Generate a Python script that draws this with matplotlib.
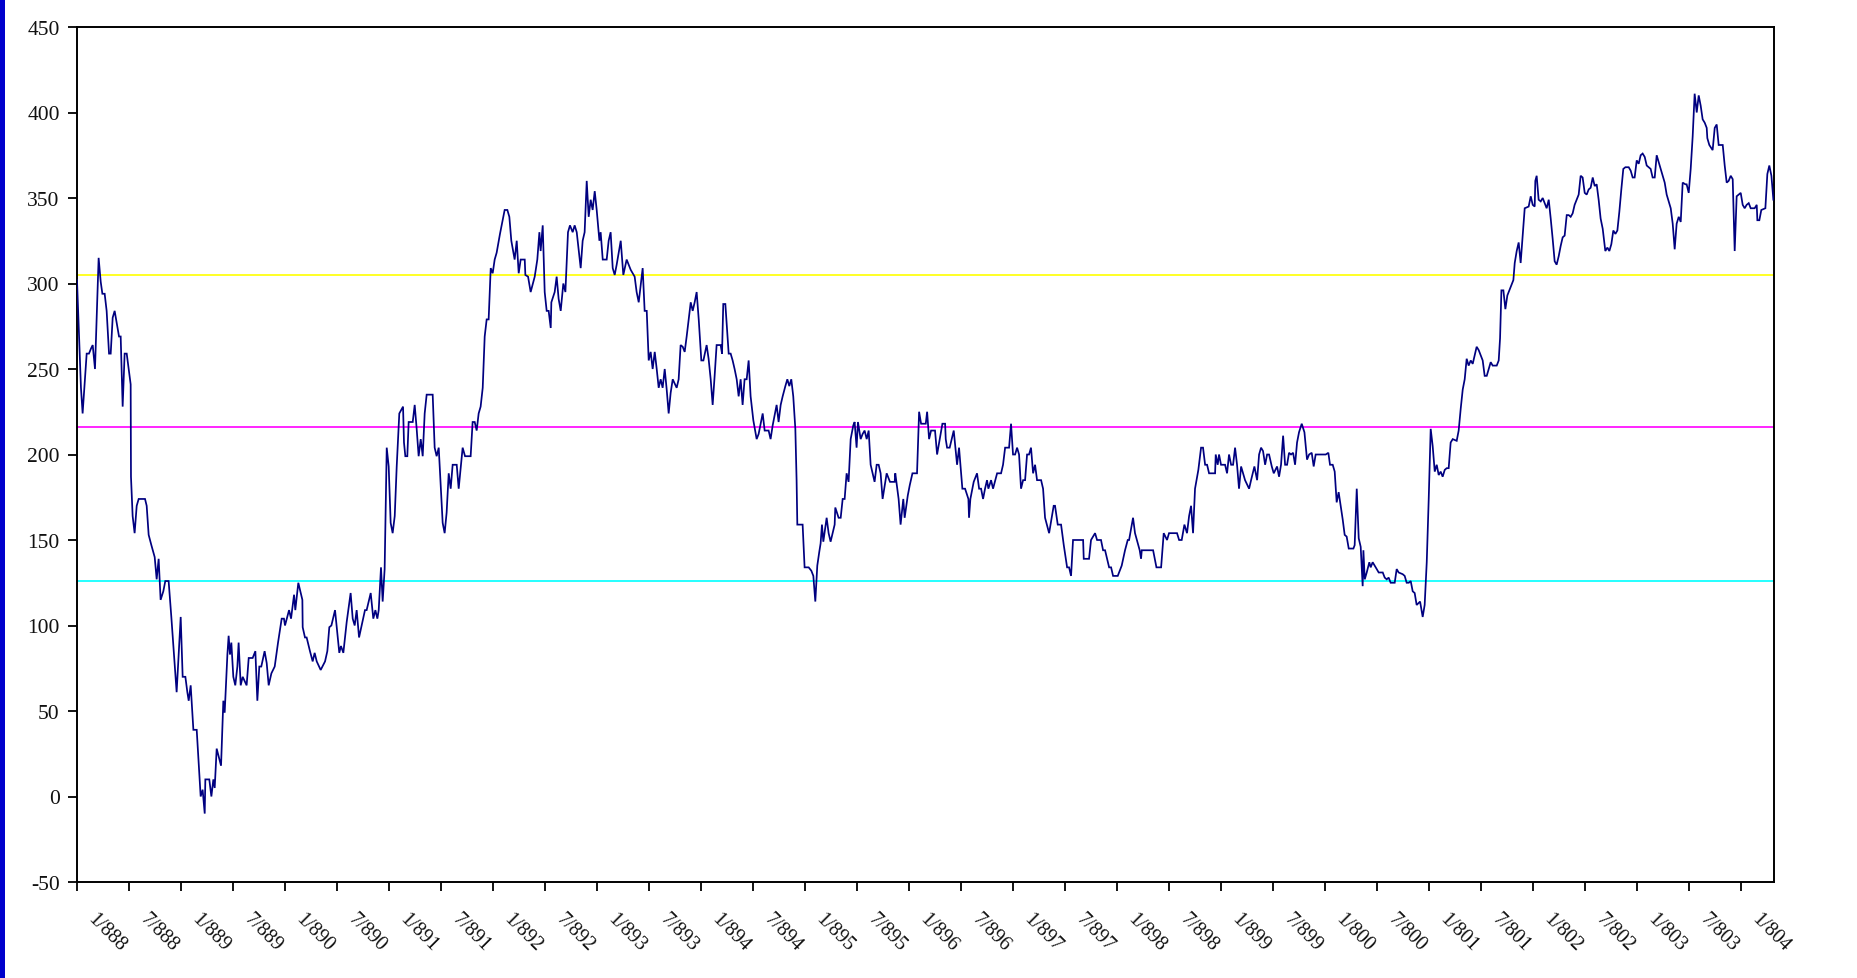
import matplotlib
matplotlib.use("Agg")
import matplotlib.pyplot as plt
import matplotlib.transforms as mtransforms
from matplotlib.patches import Rectangle

BASE_YEAR = 1888

# (years since Jan 1888, value)
period_1888_1889 = [(0.000, 302), (0.038, 239), (0.054, 224), (0.093, 259), (0.115, 259), (0.135, 262),
    (0.151, 264), (0.173, 250), (0.208, 315), (0.228, 301), (0.244, 294), (0.266, 294), (0.285, 284),
    (0.308, 259), (0.324, 259), (0.343, 280), (0.362, 284), (0.404, 269), (0.420, 269), (0.439, 228),
    (0.458, 259), (0.478, 259), (0.516, 241), (0.519, 187), (0.535, 164), (0.554, 154), (0.574, 170),
    (0.593, 174), (0.654, 174), (0.670, 170), (0.689, 153), (0.715, 147), (0.747, 140), (0.766, 127),
    (0.785, 139), (0.804, 115), (0.830, 120), (0.849, 126), (0.881, 126), (0.907, 105), (0.933, 83),
    (0.958, 61), (0.978, 83), (0.997, 105), (1.016, 70), (1.042, 70), (1.061, 61), (1.074, 56),
    (1.093, 65), (1.119, 39), (1.151, 39), (1.173, 16), (1.189, 0), (1.208, 4), (1.228, -10),
    (1.234, 10), (1.272, 10), (1.292, 0), (1.311, 10), (1.324, 5), (1.343, 28), (1.385, 18),
    (1.407, 56), (1.420, 49), (1.446, 83), (1.458, 94), (1.471, 83), (1.484, 90), (1.503, 70),
    (1.522, 65), (1.542, 76), (1.554, 90), (1.574, 65), (1.593, 70), (1.631, 65), (1.651, 81),
    (1.689, 81), (1.715, 85), (1.734, 56), (1.753, 76), (1.772, 76), (1.804, 85), (1.824, 78),
    (1.843, 65), (1.869, 72), (1.901, 76), (1.933, 90)]

period_1890_1891 = [(1.968, 104), (1.990, 104), (2.000, 100), (2.039, 109), (2.058, 104), (2.087, 118),
    (2.099, 109), (2.128, 125), (2.167, 115), (2.170, 99), (2.192, 93), (2.208, 93), (2.240, 85),
    (2.266, 79), (2.285, 84), (2.305, 79), (2.343, 74), (2.385, 79), (2.407, 85), (2.426, 99),
    (2.446, 100), (2.481, 109), (2.522, 84), (2.538, 88), (2.561, 84), (2.593, 102), (2.631, 119),
    (2.651, 104), (2.670, 100), (2.689, 109), (2.712, 93), (2.769, 109), (2.785, 109), (2.824, 119),
    (2.849, 104), (2.869, 109), (2.888, 104), (2.901, 109), (2.923, 134), (2.939, 114), (2.958, 133),
    (2.978, 204), (2.997, 193), (3.016, 160), (3.035, 154), (3.055, 164), (3.074, 193), (3.099, 224),
    (3.135, 228), (3.144, 207), (3.157, 199), (3.176, 199), (3.189, 219), (3.228, 219), (3.247, 229),
    (3.266, 215), (3.285, 199), (3.305, 209), (3.324, 199), (3.343, 224), (3.362, 235), (3.420, 235),
    (3.439, 204), (3.458, 199), (3.478, 204), (3.497, 182), (3.516, 160), (3.535, 154), (3.554, 166),
    (3.574, 189), (3.593, 180), (3.612, 194), (3.651, 194), (3.670, 180), (3.708, 204), (3.731, 199),
    (3.785, 199), (3.804, 219), (3.824, 219), (3.843, 214), (3.862, 224), (3.881, 228), (3.901, 239),
    (3.920, 269), (3.939, 279), (3.958, 279), (3.978, 309), (3.997, 306), (4.016, 314), (4.035, 318),
    (4.067, 329), (4.093, 337)]

period_1892_1893 = [(4.112, 343), (4.138, 343), (4.157, 339), (4.176, 325), (4.208, 314), (4.228, 325),
    (4.247, 306), (4.266, 314), (4.305, 314), (4.311, 305), (4.337, 304), (4.362, 295), (4.401, 304),
    (4.426, 314), (4.446, 330), (4.458, 319), (4.478, 334), (4.497, 295), (4.516, 284), (4.535, 284),
    (4.555, 274), (4.561, 289), (4.593, 295), (4.612, 304), (4.631, 291), (4.651, 284), (4.676, 300),
    (4.696, 295), (4.721, 330), (4.740, 334), (4.766, 330), (4.785, 334), (4.805, 330), (4.843, 309),
    (4.862, 325), (4.881, 330), (4.901, 360), (4.920, 339), (4.939, 349), (4.958, 343), (4.978, 354),
    (4.997, 343), (5.023, 325), (5.035, 330), (5.055, 314), (5.093, 314), (5.112, 325), (5.131, 330),
    (5.151, 309), (5.170, 305), (5.189, 311), (5.208, 318), (5.228, 325), (5.253, 305), (5.285, 314),
    (5.305, 311), (5.324, 308), (5.362, 304), (5.381, 295), (5.401, 289), (5.420, 299), (5.439, 309),
    (5.458, 284), (5.478, 284), (5.497, 255), (5.516, 260), (5.535, 250), (5.555, 260), (5.574, 250),
    (5.593, 239), (5.612, 244), (5.631, 239), (5.651, 250), (5.670, 238), (5.689, 224), (5.708, 236),
    (5.728, 244), (5.766, 239), (5.785, 244), (5.804, 264), (5.824, 263), (5.843, 260), (5.862, 269),
    (5.881, 279), (5.901, 289), (5.920, 284), (5.939, 289), (5.958, 295), (5.978, 279), (6.003, 255),
    (6.023, 255)]

period_1894_1895 = [(6.054, 264), (6.073, 256), (6.093, 244), (6.112, 229), (6.131, 246), (6.150, 264),
    (6.189, 264), (6.202, 259), (6.214, 288), (6.234, 288), (6.253, 271), (6.266, 259), (6.285, 259),
    (6.304, 255), (6.323, 250), (6.343, 244), (6.362, 234), (6.381, 244), (6.400, 229), (6.419, 244),
    (6.439, 244), (6.458, 255), (6.477, 234), (6.503, 220), (6.535, 209), (6.554, 212), (6.593, 224),
    (6.612, 214), (6.650, 214), (6.669, 209), (6.689, 217), (6.727, 229), (6.746, 219), (6.766, 229),
    (6.785, 234), (6.811, 240), (6.830, 244), (6.849, 240), (6.868, 244), (6.887, 234), (6.907, 215),
    (6.919, 185), (6.926, 159), (6.977, 159), (6.996, 134), (7.035, 134), (7.061, 132), (7.080, 129),
    (7.099, 114), (7.118, 135), (7.137, 143), (7.150, 148), (7.163, 159), (7.176, 149), (7.208, 163),
    (7.227, 154), (7.246, 149), (7.285, 159), (7.291, 169), (7.323, 163), (7.343, 163), (7.362, 174),
    (7.381, 174), (7.400, 189), (7.419, 184), (7.439, 209), (7.464, 217), (7.477, 219), (7.496, 204),
    (7.509, 219), (7.535, 209), (7.554, 212), (7.573, 214), (7.593, 209), (7.612, 214), (7.631, 194),
    (7.650, 189), (7.669, 184), (7.689, 194), (7.708, 194), (7.727, 189), (7.746, 174), (7.785, 189),
    (7.817, 184), (7.862, 184), (7.868, 189), (7.900, 174), (7.919, 159), (7.945, 174), (7.958, 163)]

period_1896_1899 = [(7.988, 176), (8.007, 182), (8.033, 189), (8.077, 189), (8.097, 225), (8.116, 218),
    (8.161, 218), (8.174, 225), (8.193, 209), (8.212, 214), (8.250, 214), (8.270, 200), (8.295, 209),
    (8.321, 218), (8.347, 218), (8.353, 209), (8.366, 204), (8.391, 204), (8.430, 214), (8.462, 194),
    (8.481, 204), (8.513, 180), (8.539, 180), (8.571, 174), (8.577, 163), (8.590, 174), (8.622, 184),
    (8.654, 189), (8.674, 180), (8.693, 180), (8.712, 174), (8.731, 180), (8.750, 185), (8.763, 180),
    (8.789, 185), (8.808, 180), (8.847, 189), (8.885, 189), (8.904, 194), (8.924, 204), (8.962, 204),
    (8.981, 218), (9.000, 200), (9.020, 200), (9.039, 204), (9.058, 200), (9.077, 180), (9.097, 185),
    (9.116, 185), (9.135, 200), (9.154, 200), (9.173, 204), (9.193, 189), (9.212, 194), (9.231, 185),
    (9.270, 185), (9.289, 180), (9.308, 163), (9.347, 154), (9.391, 170), (9.404, 170), (9.430, 159),
    (9.462, 159), (9.488, 147), (9.520, 134), (9.539, 134), (9.558, 129), (9.577, 150), (9.674, 150),
    (9.680, 139), (9.731, 139), (9.750, 150), (9.789, 154), (9.808, 150), (9.846, 150), (9.866, 144),
    (9.885, 144), (9.924, 134), (9.943, 134), (9.962, 129), (10.007, 129), (10.045, 135), (10.077, 144),
    (10.103, 150), (10.116, 150), (10.154, 163), (10.173, 154), (10.218, 144), (10.231, 139),
    (10.238, 144), (10.347, 144), (10.379, 134), (10.424, 134), (10.449, 154), (10.481, 150),
    (10.500, 154), (10.577, 154), (10.597, 150), (10.622, 150), (10.648, 159), (10.673, 154),
    (10.693, 164), (10.712, 170), (10.731, 154), (10.750, 180), (10.782, 191), (10.808, 204),
    (10.827, 204), (10.847, 194), (10.866, 194), (10.885, 189), (10.943, 189), (10.949, 200),
    (10.968, 194), (10.981, 200), (11.000, 194), (11.039, 194), (11.058, 189), (11.077, 200),
    (11.097, 194), (11.116, 194), (11.135, 204), (11.154, 194), (11.173, 180), (11.193, 193),
    (11.212, 189), (11.231, 185), (11.270, 180), (11.289, 185), (11.321, 193), (11.347, 185),
    (11.366, 200), (11.385, 204), (11.404, 202), (11.424, 194), (11.443, 200), (11.462, 200),
    (11.488, 193), (11.507, 189), (11.539, 193), (11.558, 187), (11.577, 194), (11.597, 211),
    (11.616, 194), (11.635, 194), (11.654, 201), (11.673, 200), (11.693, 201), (11.712, 194),
    (11.731, 207), (11.750, 213), (11.776, 218), (11.802, 213), (11.827, 197), (11.847, 200),
    (11.872, 201), (11.891, 193), (11.910, 200), (11.930, 200), (12.007, 200), (12.032, 201)]

period_1900_1901 = [(12.048, 194), (12.074, 194), (12.093, 190), (12.112, 172), (12.131, 178),
    (12.151, 170), (12.170, 162), (12.189, 153), (12.208, 152), (12.228, 145), (12.273, 145),
    (12.285, 147), (12.305, 180), (12.324, 151), (12.343, 146), (12.362, 123), (12.369, 144),
    (12.382, 127), (12.401, 131), (12.426, 137), (12.439, 134), (12.458, 137), (12.478, 135),
    (12.497, 133), (12.516, 131), (12.555, 131), (12.574, 128), (12.593, 127), (12.612, 128),
    (12.631, 125), (12.670, 125), (12.689, 133), (12.708, 131), (12.747, 130), (12.766, 129),
    (12.785, 125), (12.805, 125), (12.824, 126), (12.843, 120), (12.862, 119), (12.881, 112),
    (12.914, 114), (12.939, 105), (12.958, 112), (12.978, 137), (12.997, 174), (13.016, 215),
    (13.035, 205), (13.055, 190), (13.074, 194), (13.093, 188), (13.112, 190), (13.131, 187),
    (13.151, 191), (13.170, 192), (13.189, 192), (13.208, 207), (13.228, 209), (13.266, 208),
    (13.285, 214), (13.305, 227), (13.324, 238), (13.343, 244), (13.362, 256), (13.381, 252),
    (13.401, 255), (13.420, 253), (13.439, 258), (13.458, 263), (13.478, 261), (13.497, 258),
    (13.516, 255), (13.535, 246), (13.555, 246), (13.574, 250), (13.593, 254), (13.612, 252),
    (13.651, 252), (13.670, 255), (13.683, 268), (13.696, 296), (13.715, 296), (13.734, 285),
    (13.753, 293), (13.772, 296), (13.792, 299), (13.811, 302), (13.824, 312), (13.843, 319),
    (13.862, 324), (13.881, 312), (13.901, 328), (13.920, 344), (13.958, 345), (13.978, 351),
    (13.997, 346)]

period_1902_1904 = [(14.016, 345), (14.022, 360), (14.035, 363), (14.054, 349), (14.074, 348),
    (14.093, 350), (14.112, 347), (14.131, 344), (14.151, 349), (14.170, 338), (14.189, 326),
    (14.208, 313), (14.227, 311), (14.247, 316), (14.266, 322), (14.285, 327), (14.304, 328),
    (14.324, 340), (14.343, 340), (14.362, 339), (14.381, 341), (14.400, 346), (14.420, 349),
    (14.439, 352), (14.458, 363), (14.477, 362), (14.497, 353), (14.516, 352), (14.535, 355),
    (14.554, 356), (14.574, 362), (14.593, 357), (14.612, 358), (14.631, 349), (14.650, 338),
    (14.670, 332), (14.695, 319), (14.715, 321), (14.734, 319), (14.753, 323), (14.772, 331),
    (14.792, 329), (14.811, 331), (14.830, 342), (14.849, 355), (14.868, 367), (14.888, 368),
    (14.920, 368), (14.939, 366), (14.958, 362), (14.977, 362), (14.997, 372), (15.016, 370),
    (15.035, 375), (15.054, 376), (15.074, 374), (15.093, 369), (15.112, 368), (15.131, 367),
    (15.150, 362), (15.170, 362), (15.189, 375), (15.208, 371), (15.227, 367), (15.247, 363),
    (15.266, 359), (15.285, 352), (15.304, 348), (15.324, 344), (15.343, 335), (15.362, 320),
    (15.381, 335), (15.401, 339), (15.420, 336), (15.439, 359), (15.465, 358), (15.477, 358),
    (15.497, 353), (15.516, 367), (15.535, 386), (15.554, 411), (15.574, 400), (15.593, 410),
    (15.612, 404), (15.631, 396), (15.651, 394), (15.670, 391), (15.676, 385), (15.695, 381),
    (15.727, 378), (15.747, 391), (15.766, 393), (15.785, 381), (15.824, 381), (15.843, 369),
    (15.862, 359), (15.881, 360), (15.901, 363), (15.920, 361), (15.939, 319), (15.958, 351),
    (15.978, 352), (15.997, 353), (16.016, 346), (16.035, 344), (16.054, 346), (16.074, 347),
    (16.093, 344), (16.131, 344), (16.151, 346), (16.157, 337), (16.176, 337), (16.195, 343),
    (16.234, 344), (16.253, 364), (16.272, 369), (16.292, 363), (16.311, 349)]

reference_levels = [305, 216, 126]
reference_colors = ["#FFFF00", "#FF00FF", "#00FFFF"]

x_tick_labels = ["1/888", "7/888", "1/889", "7/889", "1/890", "7/890", "1/891", "7/891",
                 "1/892", "7/892", "1/893", "7/893", "1/894", "7/894", "1/895", "7/895",
                 "1/896", "7/896", "1/897", "7/897", "1/898", "7/898", "1/899", "7/899",
                 "1/800", "7/800", "1/801", "7/801", "1/802", "7/802", "1/803", "7/803", "1/804"]
y_ticks = [-50, 0, 50, 100, 150, 200, 250, 300, 350, 400, 450]

series = (period_1888_1889 + period_1890_1891 + period_1892_1893 + period_1894_1895
          + period_1896_1899 + period_1900_1901 + period_1902_1904)
xs = [BASE_YEAR + t for t, _ in series]
ys = [v for _, v in series]

plt.rcParams['font.family'] = ['Liberation Serif', 'DejaVu Serif']

W, H = 1858, 979
fig = plt.figure(figsize=(W / 100, H / 100), dpi=100)
fig.patch.set_facecolor("white")
ax = fig.add_axes([77 / W, (H - 883) / H, (1774 - 77) / W, (883 - 28) / H])

for lvl, col in zip(reference_levels, reference_colors):
    ax.axhline(lvl, color=col, lw=1.2, zorder=2)
ax.plot(xs, ys, color="#000080", lw=1.25, zorder=3, solid_joinstyle="miter")

ax.set_xlim(BASE_YEAR, BASE_YEAR + 16.317)
ax.set_ylim(-50, 450)
ax.set_yticks(y_ticks)
ax.set_yticklabels([str(v) for v in y_ticks])
ax.set_xticks([BASE_YEAR + 0.5 * i for i in range(len(x_tick_labels))])
ax.set_xticklabels(x_tick_labels, rotation=-45, ha="left", va="top")

ax.tick_params(axis="both", direction="out", length=6.5, width=1.3,
               colors="black", labelcolor="#111111")
ax.tick_params(axis="x", pad=13, labelsize=14.5)
ax.tick_params(axis="y", pad=6, labelsize=15.5)
for s in ax.spines.values():
    s.set_linewidth(1.4)
    s.set_color("black")

offset = mtransforms.ScaledTranslation(7 / 100, 0, fig.dpi_scale_trans)
for lbl in ax.get_xticklabels():
    lbl.set_transform(lbl.get_transform() + offset)

fig.add_artist(Rectangle((0, 0), 5 / W, 1, transform=fig.transFigure,
                         facecolor="#0000CC", edgecolor="none"))

fig.savefig("out.png", dpi=100)
